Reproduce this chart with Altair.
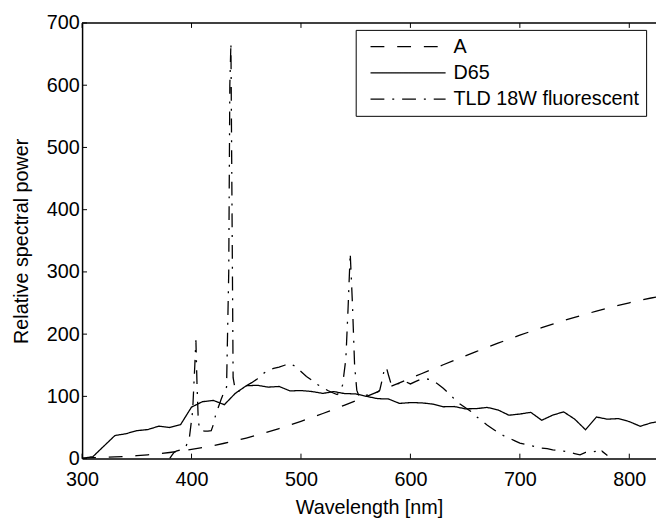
import altair as alt
import pandas as pd

# ---- data ----
WL_10 = list(range(300, 831, 10))
A_VAL = [0.93, 1.36, 1.93, 2.66, 3.59, 4.74, 6.14, 7.82, 9.80, 12.09,
         14.71, 17.68, 20.99, 24.67, 28.70, 33.09, 37.81, 42.87, 48.24, 53.91,
         59.86, 66.06, 72.50, 79.13, 85.95, 92.91, 100.00, 107.18, 114.44, 121.73,
         129.04, 136.35, 143.62, 150.84, 157.98, 165.03, 171.96, 178.77, 185.43, 191.93,
         198.26, 204.41, 210.36, 216.12, 221.67, 227.00, 232.12, 237.01, 241.68, 246.12,
         250.33, 254.31, 258.07, 261.60]
D65_VAL = [0.03, 3.29, 20.24, 37.05, 39.95, 44.91, 46.64, 52.09, 49.98, 54.65,
           82.75, 91.49, 93.43, 86.68, 104.86, 117.01, 117.81, 114.86, 115.92, 108.81,
           109.35, 107.80, 104.79, 107.69, 104.41, 104.05, 100.00, 96.33, 95.79, 88.69,
           90.01, 89.60, 87.70, 83.29, 83.70, 80.03, 80.21, 82.28, 78.28, 69.72,
           71.61, 74.35, 61.60, 69.89, 75.09, 63.59, 46.42, 66.81, 63.38, 64.30,
           59.45, 51.96, 57.44, 60.31]
TLD_WL = [380, 382, 384, 386, 390, 392, 395, 398, 401, 403, 404, 405, 406, 407, 409,
          412, 415, 418, 420, 422, 424, 427, 430, 432, 434, 435, 436, 437, 438, 440,
          443, 446, 450, 455, 460, 465, 470, 475, 480, 485, 490, 495, 500, 505, 510,
          515, 520, 525, 530, 533, 535, 538, 541, 543, 545, 547, 549, 551, 553, 556,
          560, 565, 570, 572, 574, 576, 578, 580, 582, 585, 590, 595, 600, 605, 610,
          615, 620, 625, 630, 635, 640, 645, 650, 655, 660, 665, 670, 675, 680, 685,
          690, 695, 700, 705, 710, 715, 720, 725, 730, 735, 740, 745, 750, 755, 760,
          765, 770, 772, 775, 780]
TLD_VAL = [0, 5, 10, 12, 14, 15, 20, 33, 76, 150, 190, 120, 70, 49, 45,
           44, 44, 45, 55, 70, 80, 95, 108, 115, 300, 600, 668, 400, 130, 110,
           108, 112, 117, 122, 128, 136, 142, 145, 147, 150, 153, 148, 140, 132, 126,
           119, 114, 109, 105, 103, 106, 118, 160, 240, 330, 250, 150, 110, 100, 100,
           102, 104, 107, 110, 125, 142, 147, 134, 122, 118, 121, 124, 120, 124, 128,
           128, 126, 120, 113, 105, 96, 88, 82, 76, 68, 61, 54, 48, 42, 37,
           33, 29, 25, 23, 21, 19, 17, 16, 14, 13, 12, 10, 8, 6, 10,
           10, 12, 8, 12, 5]
SERIES = ["A", "D65", "TLD 18W fluorescent"]
X_TICKS = [300, 400, 500, 600, 700, 800]
Y_TICKS = [0, 100, 200, 300, 400, 500, 600, 700]

rows = []
for w, v in zip(WL_10, A_VAL):
    rows.append({"wl": w, "val": v, "series": SERIES[0]})
for w, v in zip(WL_10, D65_VAL):
    rows.append({"wl": w, "val": v, "series": SERIES[1]})
for w, v in zip(TLD_WL, TLD_VAL):
    rows.append({"wl": w, "val": v, "series": SERIES[2]})
df = pd.DataFrame(rows)

W, H = 581, 441
FONT = "Liberation Sans"
FS = 20

xscale = alt.Scale(domain=[300, 824.4], nice=False, zero=False)
yscale = alt.Scale(domain=[0, 700], nice=False)
xaxis = alt.Axis(values=X_TICKS, format="d", title="Wavelength [nm]", ticks=False, tickSize=0,
                 labelFlush=False, labelPadding=11, titlePadding=9, domainColor="black",
                 domainWidth=1.5, grid=False)
yaxis = alt.Axis(values=Y_TICKS, format="d", title="Relative spectral power", ticks=False,
                 tickSize=0, labelPadding=3, titlePadding=15, domainColor="black",
                 domainWidth=1.5, grid=False)

lines = alt.Chart(df).mark_line(clip=True, strokeWidth=1.3, color="black").encode(
    x=alt.X("wl:Q", scale=xscale, axis=xaxis),
    y=alt.Y("val:Q", scale=yscale, axis=yaxis),
    strokeDash=alt.StrokeDash(
        "series:N",
        scale=alt.Scale(domain=SERIES, range=[[14, 13], [1, 0], [14, 8, 2, 8]]),
        legend=alt.Legend(
            orient="none", legendX=277, legendY=7, title=None, padding=6.5,
            strokeColor="black", fillColor="white", symbolType="M-4,0H4",
            symbolSize=361, symbolStrokeWidth=1.3, symbolStrokeColor="black",
            symbolOffset=36, labelOffset=35.5, labelFontSize=FS, labelFont=FONT,
            labelColor="black", labelLimit=400, rowPadding=5.5,
        ),
    ),
    order=alt.Order("wl:Q"),
)

xt = pd.DataFrame({"t": X_TICKS})
yt = pd.DataFrame({"v": Y_TICKS})

bottom_ticks = alt.Chart(xt).mark_rule(color="black", strokeWidth=1).encode(
    x=alt.X("t:Q", scale=xscale, axis=xaxis), y=alt.value(H), y2=alt.value(H - 5))
top_ticks = alt.Chart(xt).mark_rule(color="black", strokeWidth=1).encode(
    x=alt.X("t:Q", scale=xscale, axis=xaxis), y=alt.value(0), y2=alt.value(5))
left_ticks = alt.Chart(yt).mark_rule(color="black", strokeWidth=1).encode(
    y=alt.Y("v:Q", scale=yscale, axis=yaxis), x=alt.value(0), x2=alt.value(5))
top_border = alt.Chart(pd.DataFrame({"k": [0]})).mark_rule(color="black", strokeWidth=1.5).encode(
    x=alt.value(0), x2=alt.value(W), y=alt.value(0))

chart = alt.layer(lines, bottom_ticks, top_ticks, left_ticks, top_border).properties(
    width=W, height=H,
    autosize=alt.AutoSizeParams(type="none"),
    padding={"left": 75, "top": 12, "right": 0, "bottom": 60},
).configure_view(stroke=None).configure_axis(
    labelFont=FONT, labelFontSize=FS, labelColor="black",
    titleFont=FONT, titleFontSize=FS, titleFontWeight="normal", titleColor="black",
)

chart.save("out.html", embed_options={"renderer": "svg", "actions": False})
